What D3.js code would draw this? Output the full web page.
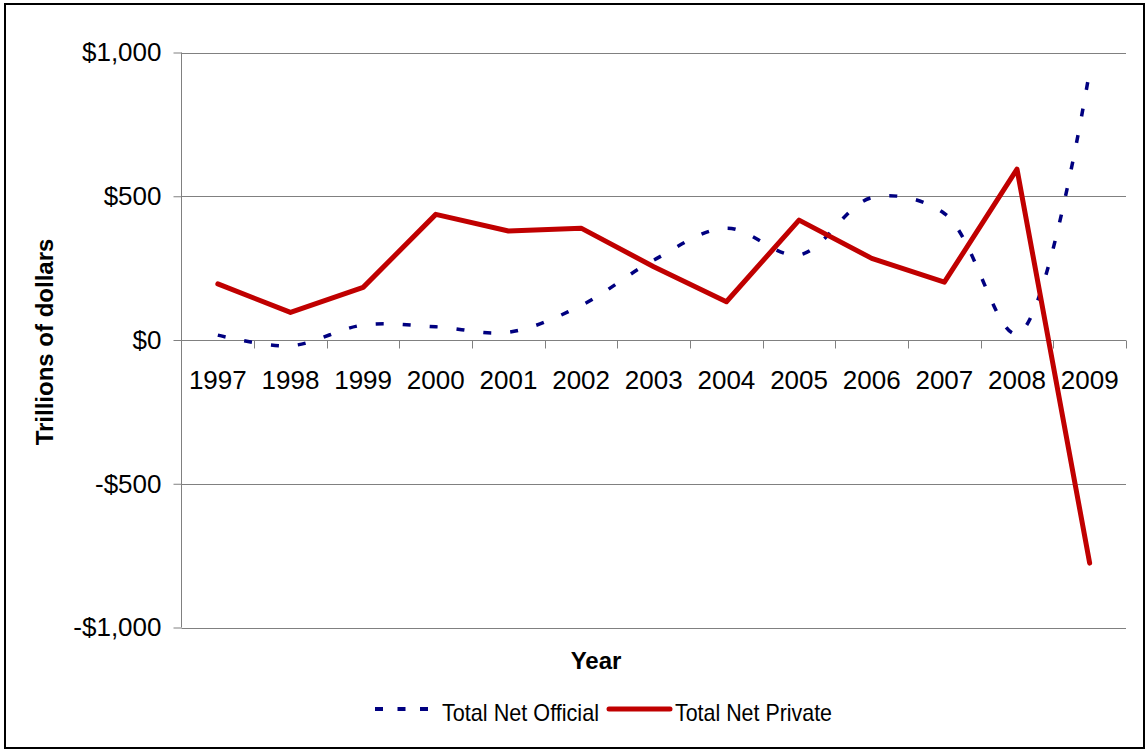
<!DOCTYPE html>
<html>
<head>
<meta charset="utf-8">
<script src="https://cdn.jsdelivr.net/npm/d3@7"></script>
<style>
  body { margin: 0; background: #fff; }
  text { font-family: "Liberation Sans", Arial, sans-serif; fill: #000; }
</style>
</head>
<body>
<svg id="chart" width="1148" height="750"></svg>
<script>
// data
var years = ['1997','1998','1999','2000','2001','2002','2003','2004','2005','2006','2007','2008','2009'];
var officialVals = [17, -20, 52, 46, 27, 120, 278, 389, 296, 495, 440, 21, 937];
var privateVals = [195, 96, 183, 437, 379, 389, 255, 133, 417, 284, 201, 594, -776];
var yTicks = [-1000, -500, 0, 500, 1000];

var plotLeft = 181.5, plotRight = 1126, plotTop = 52.5, plotBottom = 627.5;

var svg = d3.select('#chart');

// outer frame
svg.append('rect')
  .attr('x', 5).attr('y', 4)
  .attr('width', 1139).attr('height', 744)
  .attr('fill', 'none')
  .attr('stroke', '#000')
  .attr('stroke-width', 2);

var x = d3.scaleBand().domain(years).range([plotLeft, plotRight]).padding(0);
var y = d3.scaleLinear().domain([-1000, 1000]).range([plotBottom, plotTop]);
var cx = function(d){ return x(d) + x.bandwidth() / 2; };

function money(v){
  var s = '$' + d3.format(',')(Math.abs(v));
  return v < 0 ? '-' + s : s;
}

// gridlines
svg.append('g').selectAll('line')
  .data(yTicks.filter(function(v){ return v !== 0; }))
  .join('line')
    .attr('x1', plotLeft).attr('x2', plotRight)
    .attr('y1', function(d){ return Math.round(y(d)) + 0.5; })
    .attr('y2', function(d){ return Math.round(y(d)) + 0.5; })
    .attr('stroke', '#808080')
    .attr('stroke-width', 1);

// y axis
var yAxis = d3.axisLeft(y)
  .tickValues(yTicks)
  .tickSize(8)
  .tickPadding(12)
  .tickFormat(money);
var yg = svg.append('g')
  .attr('transform', 'translate(' + plotLeft + ',0)')
  .call(yAxis);
yg.select('.domain').attr('stroke', '#808080').attr('d', 'M0,' + plotTop + 'V' + plotBottom);
yg.selectAll('.tick line').attr('stroke', '#808080');
yg.selectAll('.tick text')
  .style('font-family', '"Liberation Sans", Arial, sans-serif')
  .style('font-size', '26px')
  .attr('fill', '#000');

// category axis along zero
var zeroY = Math.round(y(0)) + 0.5;
svg.append('line')
  .attr('x1', plotLeft).attr('x2', plotRight)
  .attr('y1', zeroY).attr('y2', zeroY)
  .attr('stroke', '#808080');
var bounds = years.map(function(d){ return x(d); }).concat([plotRight]);
svg.append('g').selectAll('line')
  .data(bounds.slice(1))
  .join('line')
    .attr('x1', function(d){ return Math.round(d) + 0.5; })
    .attr('x2', function(d){ return Math.round(d) + 0.5; })
    .attr('y1', zeroY).attr('y2', zeroY + 8)
    .attr('stroke', '#808080');
svg.append('g').selectAll('text')
  .data(years)
  .join('text')
    .attr('x', cx)
    .attr('y', 389)
    .attr('text-anchor', 'middle')
    .style('font-size', '26px')
    .text(function(d){ return d; });

// series
var officialLine = d3.line()
  .x(function(d, i){ return cx(years[i]); })
  .y(function(d){ return y(d); })
  .curve(d3.curveCatmullRom.alpha(0.5));
svg.append('path')
  .datum(officialVals)
  .attr('d', officialLine)
  .attr('fill', 'none')
  .attr('stroke', '#000080')
  .attr('stroke-width', 3.5)
  .attr('stroke-dasharray', '8,19');

var privateLine = d3.line()
  .x(function(d, i){ return cx(years[i]); })
  .y(function(d){ return y(d); });
svg.append('path')
  .datum(privateVals)
  .attr('d', privateLine)
  .attr('fill', 'none')
  .attr('stroke', '#C00000')
  .attr('stroke-width', 5)
  .attr('stroke-linejoin', 'round')
  .attr('stroke-linecap', 'round');

// axis titles
svg.append('text')
  .attr('x', 596).attr('y', 669)
  .attr('text-anchor', 'middle')
  .style('font-size', '24px')
  .style('font-weight', 'bold')
  .text('Year');
svg.append('text')
  .attr('transform', 'translate(53,342) rotate(-90)')
  .attr('text-anchor', 'middle')
  .style('font-size', '24px')
  .style('font-weight', 'bold')
  .text('Trillions of dollars');

// legend
var lg = svg.append('g');
lg.append('line')
  .attr('x1', 375).attr('x2', 430)
  .attr('y1', 709).attr('y2', 709)
  .attr('stroke', '#000080')
  .attr('stroke-width', 4)
  .attr('stroke-dasharray', '8,14.5');
lg.append('text')
  .attr('x', 442).attr('y', 721)
  .attr('textLength', 157)
  .attr('lengthAdjust', 'spacingAndGlyphs')
  .style('font-size', '24px')
  .text('Total Net Official');
lg.append('line')
  .attr('x1', 609).attr('x2', 670)
  .attr('y1', 709).attr('y2', 709)
  .attr('stroke', '#C00000')
  .attr('stroke-width', 5)
  .attr('stroke-linecap', 'round');
lg.append('text')
  .attr('x', 675).attr('y', 721)
  .attr('textLength', 157)
  .attr('lengthAdjust', 'spacingAndGlyphs')
  .style('font-size', '24px')
  .text('Total Net Private');
</script>
</body>
</html>
